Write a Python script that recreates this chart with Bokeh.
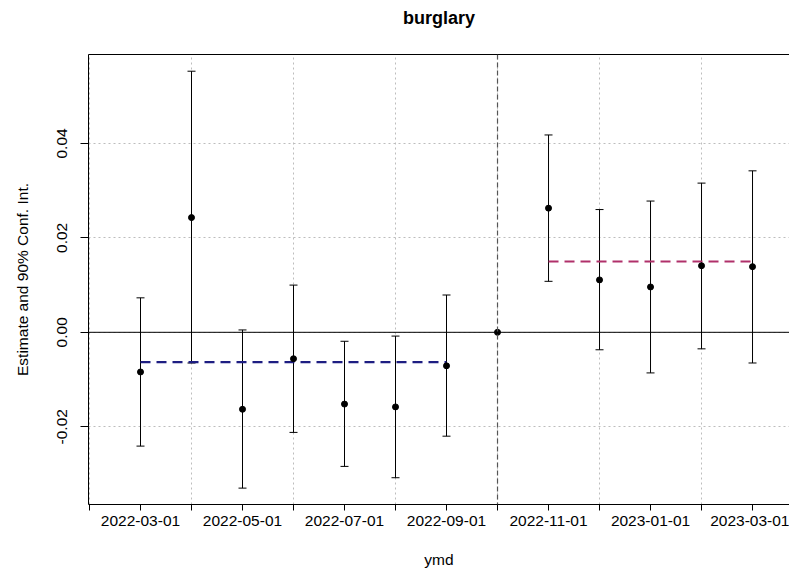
import numpy as np
from bokeh.plotting import figure
from bokeh.models import (ColumnDataSource, Range1d, LinearAxis, FixedTicker, Span,
                          Whisker, TeeHead, Grid, CustomJSTickFormatter, Title)
from bokeh.embed import file_html
from bokeh.resources import INLINE

# ---- data ----
months = ["2022-03-01", "2022-04-01", "2022-05-01", "2022-06-01", "2022-07-01",
          "2022-08-01", "2022-09-01", "2022-10-01", "2022-11-01", "2022-12-01",
          "2023-01-01", "2023-02-01", "2023-03-01"]
estimate = [-0.0084, 0.0243, -0.0163, -0.0056, -0.0152, -0.0158, -0.0071,
            0.0, 0.0263, 0.0111, 0.0096, 0.0141, 0.0139]
ci_low = [-0.0241, -0.0065, -0.0330, -0.0212, -0.0284, -0.0308, -0.0220,
          None, 0.0108, -0.0037, -0.0086, -0.0035, -0.0065]
ci_high = [0.0073, 0.0553, 0.0005, 0.0100, -0.0019, -0.0008, 0.0079,
           None, 0.0418, 0.0260, 0.0278, 0.0316, 0.0342]
ref_month = "2022-10-01"
y_ticks = [-0.02, 0.0, 0.02, 0.04]

FONT = "Liberation Sans"

xs = list(range(len(months)))
ref_i = months.index(ref_month)

p = figure(width=789, height=574, output_backend="svg", toolbar_location=None,
           x_range=Range1d(-1.0196, 12.725), y_range=Range1d(-0.03647, 0.05884),
           x_axis_type=None, y_axis_type=None,
           min_border_left=88, min_border_right=0, min_border_top=54, min_border_bottom=70)
p.outline_line_color = None
p.background_fill_color = "white"
p.border_fill_color = "white"

# x axis: tick every month, label every other month
all_ticks = list(range(-1, len(months) + 1))
labels = {}
for t in all_ticks:
    if 0 <= t < len(months) and t % 2 == 0:
        labels[t] = months[t]
    else:
        labels[t] = ""
xaxis = LinearAxis(ticker=FixedTicker(ticks=all_ticks), major_label_overrides=labels,
                   axis_label="ymd")
xaxis.minor_tick_line_color = None
xaxis.major_tick_in = 0
xaxis.major_tick_out = 6
xaxis.major_label_standoff = 5
xaxis.axis_label_standoff = 22
xaxis.major_label_text_font = FONT
xaxis.major_label_text_font_size = "15.5px"
xaxis.major_label_text_color = "black"
xaxis.axis_label_text_font = FONT
xaxis.axis_label_text_font_size = "15.5px"
xaxis.axis_label_text_font_style = "normal"
xaxis.axis_label_text_color = "black"
xaxis.axis_line_color = "black"
xaxis.major_tick_line_color = "black"
p.add_layout(xaxis, "below")

yaxis = LinearAxis(ticker=FixedTicker(ticks=y_ticks), axis_label="Estimate and 90% Conf. Int.",
                   formatter=CustomJSTickFormatter(code="return tick.toFixed(2);"))
yaxis.minor_tick_line_color = None
yaxis.major_tick_in = 0
yaxis.major_tick_out = 8
yaxis.major_label_orientation = "vertical"
yaxis.major_label_standoff = 13
yaxis.axis_label_standoff = 24
yaxis.major_label_text_font = FONT
yaxis.major_label_text_font_size = "15.5px"
yaxis.major_label_text_color = "black"
yaxis.axis_label_text_font = FONT
yaxis.axis_label_text_font_size = "15.5px"
yaxis.axis_label_text_font_style = "normal"
yaxis.axis_label_text_color = "black"
yaxis.axis_line_color = "black"
yaxis.major_tick_line_color = "black"
p.add_layout(yaxis, "left")

# top frame line, carrying the title as its label
top = LinearAxis(ticker=FixedTicker(ticks=[]), major_tick_out=0, major_tick_in=0,
                 minor_tick_line_color=None, major_label_text_font_size="0px",
                 major_label_standoff=0, axis_line_color="black",
                 axis_label="burglary", axis_label_text_font=FONT,
                 axis_label_text_font_size="18px", axis_label_text_font_style="bold",
                 axis_label_text_color="black", axis_label_standoff=27)
p.add_layout(top, "above")

# grids
grid_x = [t for t in all_ticks if t % 2 != 0]
p.add_layout(Grid(dimension=0, ticker=FixedTicker(ticks=grid_x), grid_line_color="#bdbdbd",
                  grid_line_dash="2 3", grid_line_width=1), "center")
p.add_layout(Grid(dimension=1, ticker=FixedTicker(ticks=y_ticks), grid_line_color="#bdbdbd",
                  grid_line_dash="2 3", grid_line_width=1), "center")

# zero line and reference line
p.add_layout(Span(location=0, dimension="width", line_color="black", line_width=1))
p.add_layout(Span(location=ref_i, dimension="height", line_color="#555555",
                  line_width=1.2, line_dash="5 3"))

# error bars
wx = [x for x, lo in zip(xs, ci_low) if lo is not None]
wlo = [lo for lo in ci_low if lo is not None]
whi = [hi for hi in ci_high if hi is not None]
wsrc = ColumnDataSource(dict(x=wx, lo=wlo, hi=whi))
p.add_layout(Whisker(source=wsrc, base="x", lower="lo", upper="hi", dimension="height",
                     line_color="black", line_width=1,
                     lower_head=TeeHead(size=8, line_color="black", line_width=1),
                     upper_head=TeeHead(size=8, line_color="black", line_width=1)))

# mean lines
pre = [i for i in xs if i < ref_i]
post = [i for i in xs if i > ref_i]
pre_mean = float(np.mean([estimate[i] for i in pre]))
post_mean = float(np.mean([estimate[i] for i in post]))
p.line([pre[0], pre[-1]], [pre_mean, pre_mean], line_color="#1e1e82", line_width=2.2,
       line_dash="10 6")
p.line([post[0], post[-1]], [post_mean, post_mean], line_color="#b0306a", line_width=2.2,
       line_dash="10 6")

# points
p.scatter(xs, estimate, size=6, color="black")

open("out.html", "w").write(file_html(p, INLINE))
